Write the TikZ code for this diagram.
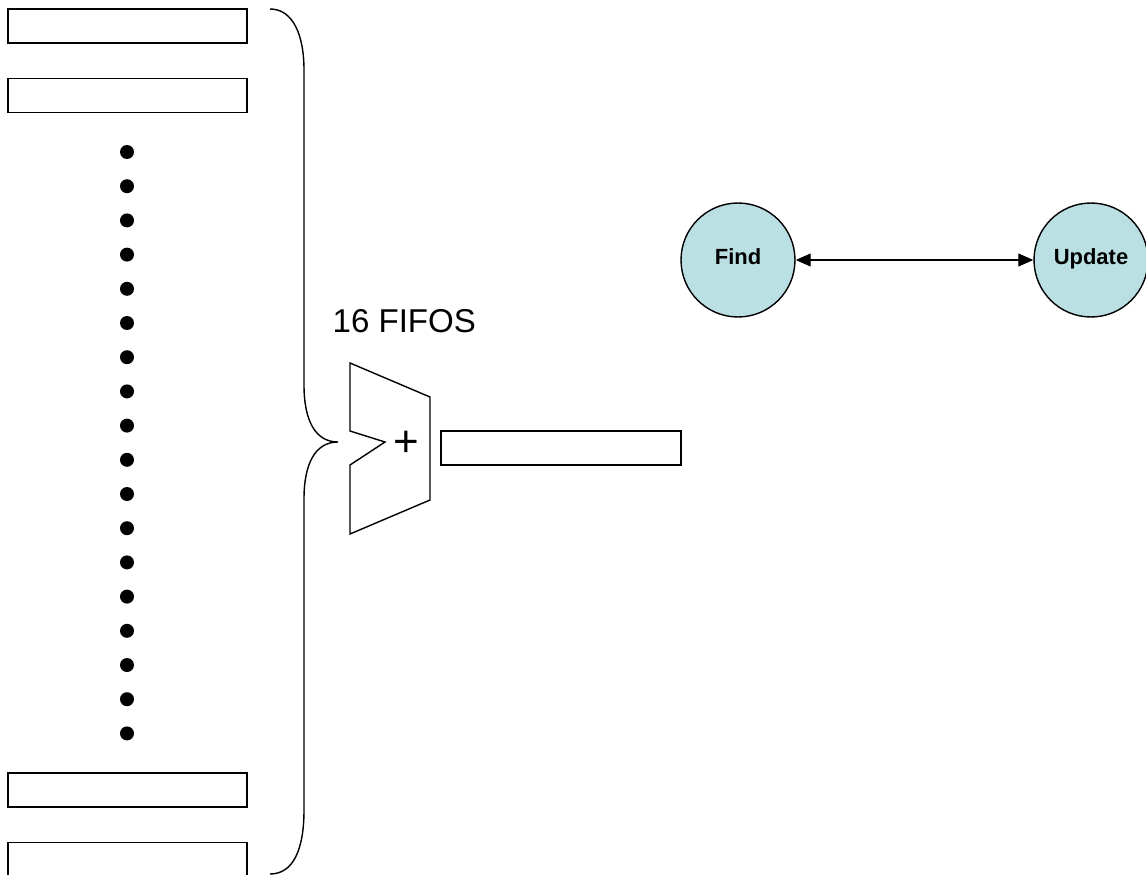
\documentclass[tikz,border=0pt]{standalone}
\usepackage{fontspec}
\setmainfont{Liberation Sans}
\usetikzlibrary{arrows.meta,positioning}
\definecolor{stagefill}{HTML}{BBE0E3}

\begin{document}
\begin{tikzpicture}[
        x=0.02cm, y=-0.02cm,
        line width=0.8pt,
        node distance=0.68cm,
        fifo/.style={draw, minimum width=4.78cm, minimum height=0.68cm, inner sep=0pt},
        stage/.style={circle, draw, fill=stagefill, minimum size=2.28cm, inner sep=0pt, text height=0.75em, text depth=0.25em, font=\fontsize{12.5}{15}\selectfont\bfseries},
        dot/.style={circle, fill, inner sep=0pt, minimum size=0.28cm},
        link/.style={line width=0.6pt, {Triangle[length=0.3cm,width=0.26cm]}-{Triangle[length=0.3cm,width=0.26cm]}}
    ]
    \useasboundingbox (0,0) rectangle (1146,875);

    % queues on the left
    \node[fifo] (fifo1) at (127.5,26) {};
    \node[fifo, below=of fifo1] (fifo2) {};
    \node[fifo] (fifo15) at (127.5,790) {};
    \node[fifo, below=of fifo15] (fifo16) {};
    \foreach \i in {0,...,17}
        \node[dot] (dot\i) at (127,{152+34.2*\i}) {};

    % brace gathering the queues
    \draw (270,9) .. controls (293,9) and (304,35) .. (304,70) -- (304,385)
        .. controls (304,420) and (315,442) .. (338,442)
        .. controls (315,442) and (304,464) .. (304,499) -- (304,810)
        .. controls (304,850) and (293,874) .. (270,874);
    \node[anchor=base west, inner sep=0pt, font=\fontsize{18.8}{22}\selectfont] (label) at (332,332) {16 FIFOS};

    % adder and its result
    \draw (350,363) -- (430,397) -- (430,500) -- (350,534) -- (350,465) -- (385,442) -- (350,431) -- cycle;
    \node[inner sep=0pt, font=\fontsize{25}{28}\selectfont] (plus) at (406,444) {+};
    \node[fifo, minimum width=4.8cm] (sum) at (561,448) {};

    % find / update
    \node[stage] (find) at (738,260) {Find};
    \node[stage] (update) at (1091,260) {Update};
    \draw[link] (find) -- (update);
\end{tikzpicture}
\end{document}
